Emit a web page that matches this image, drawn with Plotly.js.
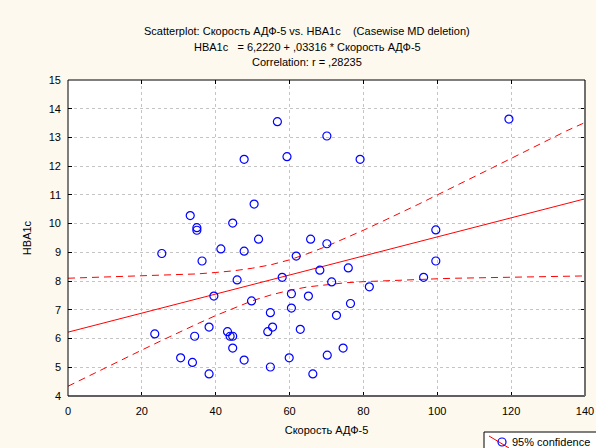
<!DOCTYPE html>
<html>
<head>
<meta charset="utf-8">
<script src="https://cdn.plot.ly/plotly-3.0.1.min.js"></script>
<style>html,body{margin:0;padding:0;background:#fdf9ee;}#chart{width:596px;height:448px;}</style>
</head>
<body>
<div id="chart"></div>
<script>
// Scatter data: Скорость АДФ-5 (x) vs HBA1c (y)
var adf5 = [119.4, 56.7, 70.1, 47.7, 59.3, 79.1, 50.4, 33.1, 44.6, 34.9, 34.9, 51.6, 99.6, 65.7, 70.1,
            25.4, 41.4, 47.7, 61.8, 36.3, 99.6, 45.8, 58.0, 68.2, 75.9, 96.3, 71.4, 81.6, 39.5, 49.7,
            60.5, 65.1, 76.5, 54.8, 60.5, 72.7, 62.9, 38.2, 43.2, 55.4, 54.1, 23.5, 34.3, 43.9, 44.6,
            44.6, 30.5, 33.7, 47.7, 59.9, 54.8, 38.2, 70.2, 74.5, 66.3];
var hba1c = [13.64, 13.55, 13.05, 12.24, 12.33, 12.24, 10.68, 10.28, 10.02, 9.86, 9.77, 9.46, 9.78, 9.46, 9.30,
             8.96, 9.12, 9.04, 8.87, 8.70, 8.70, 8.04, 8.13, 8.38, 8.46, 8.13, 7.97, 7.80, 7.48, 7.31,
             7.56, 7.48, 7.22, 6.90, 7.06, 6.81, 6.32, 6.40, 6.24, 6.40, 6.24, 6.16, 6.08, 6.08, 6.08,
             5.67, 5.33, 5.17, 5.25, 5.33, 5.01, 4.77, 5.42, 5.67, 4.77];

// Regression: HBA1c = 6,2220 + ,03316 * Скорость АДФ-5
var intercept = 6.2220;
var slope = 0.03316;
var lineX = [0, 140];

// 95% confidence band
var bandX = [0, 5, 10, 15, 20, 25, 30, 35, 40, 45, 50, 55, 60, 65, 70, 75, 80, 85, 90, 95, 100, 105, 110, 115, 120, 125, 130, 135, 140];
var bandUpper = [8.10, 8.12, 8.13, 8.15, 8.17, 8.19, 8.22, 8.25, 8.30, 8.36, 8.45, 8.57, 8.74, 8.96, 9.21, 9.48, 9.77, 10.07, 10.37, 10.68, 11.00, 11.31, 11.63, 11.95, 12.27, 12.58, 12.91, 13.23, 13.52];
var bandLower = [4.34, 4.66, 4.98, 5.29, 5.60, 5.91, 6.22, 6.51, 6.80, 7.07, 7.32, 7.52, 7.68, 7.80, 7.88, 7.94, 7.98, 8.01, 8.04, 8.06, 8.08, 8.10, 8.11, 8.12, 8.14, 8.15, 8.16, 8.17, 8.18];

var xTicks = [0, 20, 40, 60, 80, 100, 120, 140];
var yTicks = [4, 5, 6, 7, 8, 9, 10, 11, 12, 13, 14, 15];

var titleLines = [
  "Scatterplot: Скорость АДФ-5 vs. HBA1c    (Casewise MD deletion)",
  "HBA1c   = 6,2220 + ,03316 * Скорость АДФ-5",
  "Correlation: r = ,28235"
];
var xTitle = "Скорость АДФ-5";
var yTitle = "HBA1c";
var legendText = "95% confidence";

var lineY = lineX.map(function (x) { return intercept + slope * x; });

var FONT = "Liberation Sans, Arial, sans-serif";
var W = 596, H = 448, L = 68, R = 11, T = 80, B = 52;
function px(p) { return (p - L) / (W - L - R); }
function py(p) { return (H - B - p) / (H - T - B); }

var traces = [
  { x: bandX, y: bandUpper, mode: "lines", line: { color: "#ff0000", width: 1, dash: "7px,5px" }, hoverinfo: "skip", showlegend: false },
  { x: bandX, y: bandLower, mode: "lines", line: { color: "#ff0000", width: 1, dash: "7px,5px" }, hoverinfo: "skip", showlegend: false },
  { x: lineX, y: lineY, mode: "lines", line: { color: "#ff0000", width: 1 }, hoverinfo: "skip", showlegend: false },
  { x: adf5, y: hba1c, mode: "markers", marker: { symbol: "circle-open", size: 8, color: "#0000ff", line: { width: 1.2, color: "#1a1aff" } }, showlegend: false }
];

var annotations = titleLines.map(function (t, i) {
  return { text: t, xref: "paper", yref: "paper", x: px(307), y: py([31, 47, 62][i]), xanchor: "center", yanchor: "middle",
           showarrow: false, font: { family: FONT, size: 11, color: "#000" } };
});
annotations.push({ text: legendText, xref: "paper", yref: "paper", x: px(510), y: py(442), xanchor: "left", yanchor: "middle",
                   showarrow: false, font: { family: FONT, size: 11, color: "#000" } });

var shapes = [
  { type: "line", xref: "paper", yref: "paper", x0: 0, x1: 1, y0: 0, y1: 0, line: { color: "#606060", width: 2 } },
  { type: "line", xref: "paper", yref: "paper", x0: 1, x1: 1, y0: 0, y1: 1, line: { color: "#707070", width: 2 } },
  { type: "line", xref: "paper", yref: "paper", x0: 0, x1: 0, y0: 0, y1: 1, line: { color: "#000", width: 1 } },
  { type: "line", xref: "paper", yref: "paper", x0: 0, x1: 1, y0: 1, y1: 1, line: { color: "#000", width: 1 } },
  { type: "rect", xref: "paper", yref: "paper", x0: px(484), x1: px(620), y0: py(432), y1: py(470), line: { color: "#000", width: 1 }, fillcolor: "#ffffff", layer: "below" },
  { type: "line", xref: "paper", yref: "paper", x0: px(489), x1: px(509), y0: py(436), y1: py(448), line: { color: "#ff0000", width: 1 } },
  { type: "circle", xref: "paper", yref: "paper", x0: px(498), x1: px(506), y0: py(438), y1: py(446), line: { color: "#0000ff", width: 1.2 }, fillcolor: "rgba(0,0,0,0)" }
];

var layout = {
  width: W, height: H,
  margin: { l: L, r: R, t: T, b: B, pad: 0 },
  paper_bgcolor: "#fdf9ee",
  plot_bgcolor: "#ffffff",
  font: { family: FONT, size: 11, color: "#000" },
  showlegend: false,
  xaxis: {
    range: [0, 140], tickvals: xTicks, ticktext: xTicks.map(String),
    showgrid: true, gridcolor: "#c4c4c4", griddash: "dot", gridwidth: 1,
    zeroline: false, showline: false,
    ticks: "inside", ticklen: 4, tickcolor: "#000", mirror: "ticks",
    ticklabelstandoff: 7,
    tickfont: { family: FONT, size: 11 },
    title: { text: xTitle, font: { family: FONT, size: 11 }, standoff: 10 }
  },
  yaxis: {
    range: [4, 15], tickvals: yTicks, ticktext: yTicks.map(String),
    showgrid: true, gridcolor: "#c4c4c4", griddash: "dot", gridwidth: 1,
    zeroline: false, showline: false,
    ticks: "inside", ticklen: 4, tickcolor: "#000", mirror: "ticks",
    ticklabelstandoff: 6,
    tickfont: { family: FONT, size: 11 },
    title: { text: yTitle, font: { family: FONT, size: 11 }, standoff: 14 }
  },
  annotations: annotations,
  shapes: shapes
};

Plotly.newPlot("chart", traces, layout, { displayModeBar: false, staticPlot: true });
</script>
</body>
</html>
